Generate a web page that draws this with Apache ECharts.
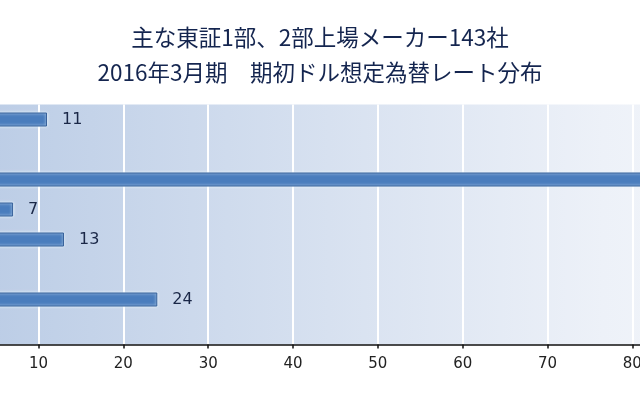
<!DOCTYPE html>
<html>
<head>
<meta charset="utf-8">
<script src="https://cdn.jsdelivr.net/npm/echarts@6/dist/echarts.min.js"></script>
<style>
html,body{margin:0;padding:0;background:#fff;overflow:hidden;width:640px;height:400px;position:relative;}
#c{position:absolute;left:-100px;top:0;width:900px;height:400px;}
</style>
</head>
<body>
<div id="c"></div>
<script>
// Data (top to bottom)
const categories = ["110円","113円","115円","116円","118円","119円","120円","125円"];
const companies  = [11, 2, 84, 7, 13, 1, 24, 1];
const titleLines = ["主な東証1部、2部上場メーカー143社", "2016年3月期　期初ドル想定為替レート分布"];
const xMin = 0, xMax = 90, xStep = 10;

const chart = echarts.init(document.getElementById('c'), null, {renderer:'canvas'});
const titleStyle = {
  fontFamily: 'Noto Sans CJK JP',
  fontSize: 22.5,
  fill: '#14254f',
  textAlign: 'center',
  textVerticalAlign: 'middle'
};
chart.setOption({
  animation: false,
  backgroundColor: '#ffffff',
  graphic: [
    {type: 'text', x: 420, y: 37, style: Object.assign({text: titleLines[0]}, titleStyle)},
    {type: 'text', x: 420, y: 72, style: Object.assign({text: titleLines[1]}, titleStyle)}
  ],
  grid: {
    left: 53.7,
    width: 763.5,
    top: 104.5,
    height: 240,
    show: true,
    borderWidth: 0,
    backgroundColor: new echarts.graphic.LinearGradient(0, 0, 1, 0, [
      {offset: 0, color: '#b9cbe5'},
      {offset: 0.85, color: '#edf1f8'},
      {offset: 1, color: '#f2f5fa'}
    ])
  },
  xAxis: {
    type: 'value',
    min: xMin, max: xMax, interval: xStep,
    axisLine: {show: true, lineStyle: {color: '#111', width: 1.5}},
    axisTick: {show: true, length: 4, lineStyle: {color: '#111', width: 1.5}},
    axisLabel: {
      color: '#222',
      fontFamily: 'DejaVu Sans',
      fontSize: 15,
      margin: 12
    },
    splitLine: {show: true, lineStyle: {color: '#ffffff', width: 2}}
  },
  yAxis: {
    type: 'category',
    data: categories,
    inverse: true,
    axisLine: {show: false},
    axisTick: {show: false},
    axisLabel: {show: false},
    splitLine: {show: false}
  },
  series: [{
    type: 'bar',
    data: companies,
    barWidth: 14,
    itemStyle: {
      color: '#4a7dbd',
      borderColor: '#36609a',
      borderWidth: 1,
      shadowColor: 'rgba(235,250,255,0.95)',
      shadowBlur: 3
    },
    label: {
      show: true,
      position: 'right',
      distance: 15,
      color: '#1a2747',
      fontFamily: 'DejaVu Sans',
      fontSize: 16
    }
  }]
});
</script>
</body>
</html>
